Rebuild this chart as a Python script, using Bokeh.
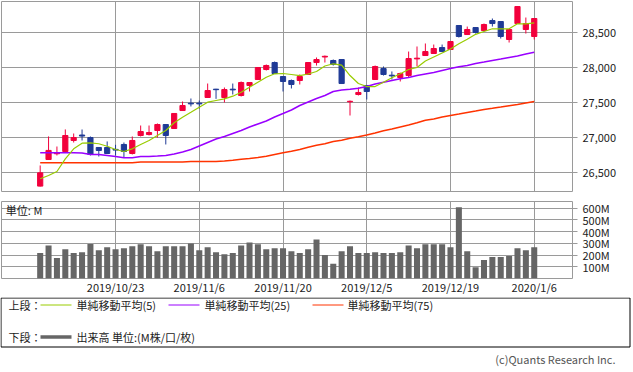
from bokeh.plotting import figure
from bokeh.layouts import column
from bokeh.models import Range1d, FixedTicker, NumeralTickFormatter, Label
from bokeh.embed import file_html
from bokeh.resources import INLINE
from bokeh.core.properties import value

FONT = "Noto Sans CJK JP"

# ---------------- data ----------------
tick_idx = [9, 19, 29, 39, 49, 59]
tick_labels = ["2019/10/23", "2019/11/6", "2019/11/20", "2019/12/5", "2019/12/19", "2020/1/6"]

opens = [26310, 26690, 26772, 26805, 26962, 27040, 27004, 26862, 26862, 26835,
         26905, 26776, 27033, 27047, 27105, 27190, 27133, 27390, 27495, 27495,
         27576, 27695, 27576, 27695, 27605, 27748, 27833, 27976, 28076, 27876,
         27819, 27819, 27905, 28076, 28155, 28105, 28119, 27515, 27619, 27748,
         27833, 27990, 27895, 27862, 27890, 28128, 28176, 28205, 28290, 28262,
         28605, 28476, 28576, 28533, 28676, 28662, 28405, 28633, 28548, 28448]
highs = [26605, 27020, 26876, 27120, 27062, 27119, 27019, 26865, 26948, 26900,
         26933, 27019, 27176, 27176, 27205, 27195, 27350, 27519, 27562, 27533,
         27776, 27700, 27719, 27776, 27805, 27795, 28008, 28048, 28090, 27880,
         27833, 27905, 28080, 28148, 28176, 28119, 28120, 27533, 27719, 27750,
         28033, 28019, 27948, 27933, 28233, 28305, 28348, 28333, 28333, 28380,
         28608, 28590, 28580, 28633, 28705, 28665, 28550, 28880, 28719, 28708]
lows = [26305, 26685, 26748, 26800, 26933, 26962, 26748, 26733, 26770, 26748,
        26719, 26762, 27019, 27033, 27004, 26905, 27130, 27390, 27448, 27419,
        27576, 27557, 27505, 27619, 27590, 27662, 27830, 27962, 27915, 27662,
        27705, 27762, 27900, 28033, 28076, 28033, 27775, 27319, 27605, 27548,
        27830, 27890, 27833, 27805, 27862, 28019, 28176, 28200, 28230, 28260,
        28433, 28470, 28490, 28530, 28590, 28419, 28362, 28630, 28490, 28405]
closes = [26500, 26820, 26790, 27033, 27004, 27025, 26762, 26819, 26776, 26825,
          26805, 26962, 27090, 27076, 27190, 27033, 27348, 27462, 27485, 27485,
          27676, 27688, 27690, 27685, 27790, 27790, 28005, 28033, 27919, 27805,
          27762, 27876, 28076, 28119, 28165, 28048, 27776, 27522, 27648, 27662,
          28019, 27905, 27885, 27919, 28133, 28138, 28233, 28276, 28233, 28376,
          28448, 28548, 28505, 28619, 28633, 28448, 28548, 28876, 28633, 28705]

ma5 = [26415, 26462, 26519, 26700, 26843, 26923, 26929, 26915, 26880, 26833,
       26805, 26843, 26905, 26962, 27033, 27105, 27215, 27295, 27366, 27438,
       27509, 27533, 27557, 27595, 27652, 27723, 27795, 27866, 27915, 27919,
       27905, 27890, 27912, 27948, 28026, 28058, 28038, 27890, 27776, 27733,
       27733, 27795, 27858, 27915, 27976, 28005, 28098, 28155, 28212, 28269,
       28343, 28408, 28479, 28519, 28558, 28558, 28558, 28629, 28629, 28643]
ma25 = [26786, 26786, 26786, 26786, 26786, 26783, 26762, 26762, 26748, 26733,
        26715, 26715, 26733, 26733, 26740, 26748, 26769, 26798, 26833, 26883,
        26933, 26983, 27019, 27062, 27105, 27155, 27198, 27241, 27297, 27347,
        27398, 27462, 27512, 27562, 27605, 27662, 27683, 27693, 27708, 27733,
        27769, 27795, 27819, 27843, 27862, 27890, 27912, 27933, 27962, 27990,
        28016, 28033, 28062, 28083, 28105, 28126, 28148, 28169, 28198, 28223]
ma75 = [26645, 26645, 26645, 26645, 26645, 26645, 26645, 26645, 26645, 26645,
        26645, 26645, 26655, 26655, 26655, 26655, 26655, 26655, 26662, 26662,
        26662, 26662, 26669, 26679, 26693, 26705, 26719, 26738, 26762, 26786,
        26809, 26833, 26866, 26895, 26915, 26948, 26965, 26993, 27015, 27040,
        27069, 27100, 27126, 27155, 27183, 27215, 27250, 27269, 27298, 27319,
        27340, 27362, 27383, 27405, 27422, 27440, 27459, 27476, 27498, 27519]

volume_m = [217, 283, 175, 250, 217, 225, 294, 242, 267, 250,
            258, 275, 292, 275, 233, 275, 275, 275, 300, 242,
            267, 225, 208, 217, 283, 308, 292, 250, 258, 258,
            233, 217, 250, 333, 200, 125, 233, 275, 217, 217,
            225, 217, 217, 225, 283, 258, 292, 292, 292, 267,
            608, 233, 97, 158, 183, 183, 192, 258, 242, 267]

price_ticks = [26500, 27000, 27500, 28000, 28500]
vol_ticks = [100, 200, 300, 400, 500, 600]

# ---------------- styling ----------------
UP = "#f2003c"
DOWN = "#1f3a96"
C_MA5 = "#99cc00"
C_MA25 = "#9900ff"
C_MA75 = "#ff3300"
GRID = "#9a9a9a"
W = 633

idx = list(range(len(closes)))
colors = [UP if c >= o else DOWN for o, c in zip(opens, closes)]
body_top = [max(o, c) for o, c in zip(opens, closes)]
body_bot = [min(o, c) for o, c in zip(opens, closes)]

xr = Range1d(-4.62, 63.57)


def style_right_axis(ax):
    ax.axis_line_color = None
    ax.major_tick_out = 5
    ax.major_tick_in = 0
    ax.major_tick_line_color = GRID
    ax.minor_tick_line_color = None
    ax.major_label_standoff = 5
    ax.major_label_text_font = FONT
    ax.major_label_text_font_size = "11px"
    ax.major_label_text_color = "#222222"


# ---------------- price panel ----------------
p1 = figure(width=W, height=196, x_range=xr, y_range=Range1d(26233, 28948),
            x_axis_location=None, y_axis_location="right",
            output_backend="svg", toolbar_location=None,
            min_border_left=1, min_border_right=61, min_border_top=1, min_border_bottom=5)
p1.outline_line_color = GRID
p1.xgrid.ticker = FixedTicker(ticks=tick_idx)
p1.ygrid.ticker = FixedTicker(ticks=price_ticks)
p1.grid.grid_line_color = GRID
p1.grid.grid_line_width = 1
p1.yaxis.ticker = FixedTicker(ticks=price_ticks)
p1.yaxis.formatter = NumeralTickFormatter(format="0,0")
style_right_axis(p1.yaxis)

p1.segment(x0=idx, y0=lows, x1=idx, y1=highs, line_color=colors, line_width=1)
p1.vbar(x=idx, width=0.62, top=body_top, bottom=body_bot,
        fill_color=colors, line_color=colors, line_width=1)
p1.line(idx, ma75, line_color=C_MA75, line_width=1.5)
p1.line(idx, ma25, line_color=C_MA25, line_width=1.5)
p1.line(idx, ma5, line_color=C_MA5, line_width=1.2)

# ---------------- volume panel ----------------
p2 = figure(width=W, height=101, x_range=xr, y_range=Range1d(0, 658),
            y_axis_location="right",
            output_backend="svg", toolbar_location=None,
            min_border_left=1, min_border_right=61, min_border_top=5, min_border_bottom=17)
p2.outline_line_color = GRID
p2.xgrid.ticker = FixedTicker(ticks=tick_idx)
p2.ygrid.ticker = FixedTicker(ticks=[0] + vol_ticks)
p2.grid.grid_line_color = GRID
p2.grid.grid_line_width = 1
p2.yaxis.ticker = FixedTicker(ticks=vol_ticks)
p2.yaxis.major_label_overrides = {t: f"{t}M" for t in vol_ticks}
style_right_axis(p2.yaxis)
p2.xaxis.ticker = FixedTicker(ticks=tick_idx)
p2.xaxis.major_label_overrides = dict(zip(tick_idx, tick_labels))
p2.xaxis.axis_line_color = None
p2.xaxis.major_tick_line_color = None
p2.xaxis.major_tick_out = 0
p2.xaxis.major_tick_in = 0
p2.xaxis.minor_tick_line_color = None
p2.xaxis.minor_tick_out = 0
p2.xaxis.major_label_standoff = 0
p2.xaxis.major_label_text_font = FONT
p2.xaxis.major_label_text_font_size = "11px"
p2.xaxis.major_label_text_color = "#222222"

p2.vbar(x=idx, width=0.72, top=volume_m, bottom=0, fill_color="#666666", line_color=None)
p2.add_layout(Label(x=-4.1, y=588, text="単位: M", text_font=FONT,
                    text_font_size="11px", text_color="#222222", text_baseline="middle"))

# ---------------- legend panel ----------------
H3 = 75
p3 = figure(width=W, height=H3, x_range=Range1d(0, W), y_range=Range1d(H3, 0),
            x_axis_location=None, y_axis_location=None,
            output_backend="svg", toolbar_location=None,
            min_border_left=0, min_border_right=0, min_border_top=0, min_border_bottom=0)
p3.outline_line_color = None
p3.grid.visible = False
p3.quad(left=[0.5], right=[629.5], top=[0.5], bottom=[49.5], fill_color=None,
        line_color="#000000", line_width=1)
p3.text(x=[8, 8], y=[7.5, 39.5], text=["上段：", "下段："], text_font=value(FONT),
        text_font_size="11px", text_baseline="middle", text_color="#222222")
p3.segment(x0=[40, 168, 312], y0=[7.5, 7.5, 7.5], x1=[71, 199, 343], y1=[7.5, 7.5, 7.5],
           line_color=[C_MA5, C_MA25, C_MA75], line_width=1)
p3.segment(x0=[40], y0=[39.5], x1=[71], y1=[39.5], line_color="#666666", line_width=3.5)
p3.text(x=[76, 204, 347, 76], y=[7.5, 7.5, 7.5, 39.5],
        text=["単純移動平均(5)", "単純移動平均(25)", "単純移動平均(75)", "出来高 単位:(M株/口/枚)"],
        text_font=value(FONT), text_font_size="11px", text_baseline="middle",
        text_color="#222222")
p3.text(x=[615], y=[61], text=["(c)Quants Research Inc."], text_font=value(FONT),
        text_font_size="11px", text_baseline="middle", text_align="right",
        text_color="#555555")

layout = column(column(p1, p2, spacing=0), p3, spacing=0)
open("out.html", "w").write(file_html(layout, INLINE))
